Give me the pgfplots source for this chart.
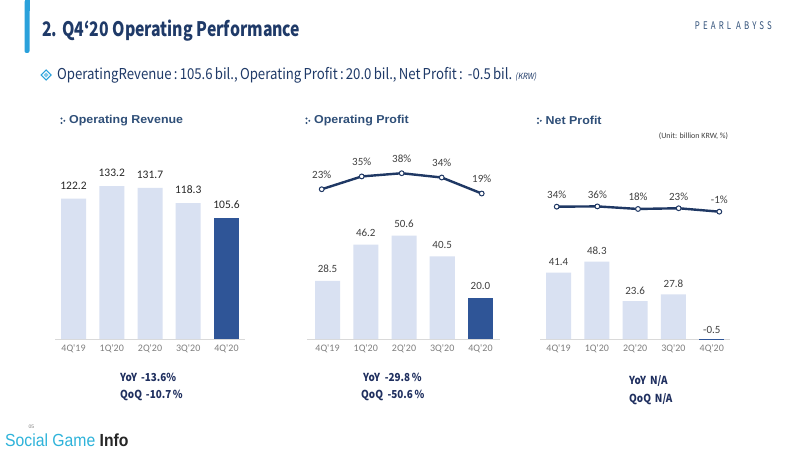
\documentclass[border=0pt]{standalone}
\usepackage{fontspec}
\setmainfont{Carlito}
\newfontfamily\nkr{Noto Sans CJK KR}
\newfontfamily\nkrit[FakeSlant=0.2]{Noto Sans CJK KR}
\newfontfamily\pa[LetterSpace=40]{Noto Sans CJK KR}
\newfontfamily\lsans{Liberation Sans}
\usepackage{pgfplots}
\pgfplotsset{compat=1.18}
\definecolor{lightbar}{HTML}{D9E1F2}
\definecolor{darkbar}{HTML}{2F5597}
\definecolor{navy}{HTML}{1F3864}
\definecolor{titlec}{HTML}{1F3A68}
\definecolor{hdrc}{HTML}{2F4F78}
\definecolor{axisgray}{HTML}{D9D9D9}
\definecolor{tickgray}{HTML}{7F7F7F}
\definecolor{lblgray}{HTML}{404040}
\definecolor{cyanbar}{HTML}{2AA1DB}
\definecolor{sgcyan}{HTML}{2EB3DA}
\definecolor{yoyc}{HTML}{1F2F5F}

\pgfplotsset{
  barbase/.style={
    scale only axis, ybar, bar shift=0pt, bar width=25pt, ymin=0,
    axis y line=none, axis x line=bottom,
    x axis line style={-, draw=axisgray, line width=1pt},
    xtick={0,1,2,3,4},
    xticklabels={4Q\textquotesingle19,1Q\textquotesingle20,2Q\textquotesingle20,3Q\textquotesingle20,4Q\textquotesingle20},
    major tick length=0pt, xtick style={draw=none},
    xticklabel style={font=\fontsize{10}{11}\selectfont, text=tickgray, anchor=base, inner sep=0pt, yshift=-12.5pt},
    clip=false,
    /pgf/number format/assume math mode=true,
    nodes near coords={\pgfmathprintnumber[fixed,fixed zerofill,precision=1]{\pgfplotspointmeta}},
  },
  linebase/.style={
    scale only axis, hide axis, clip=false,
    /pgf/number format/assume math mode=true,
  },
  pline/.style={color=navy, line width=2.4pt, mark=*, mark size=2.4pt,
    mark options={fill=white, draw=navy, line width=1pt},
    nodes near coords={\pgfmathprintnumber[fixed,precision=0]{\pgfplotspointmeta}\%},
  },
}

\begin{document}
\begin{tikzpicture}
\begin{scope}[x=1pt,y=1pt]
\fill[white] (0,0) rectangle (800,451);
% left accent bar
\fill[cyanbar, rounded corners=2pt] (24.5,398) rectangle (29.5,451);
\fill[cyanbar] (24.5,440) rectangle (29.5,451);
% title
\node[anchor=west, inner sep=0pt, text=titlec, xscale=0.79] at (42,420) {\fontsize{20}{22}\nkr\bfseries\selectfont 2. Q4‘20 Operating Performance};
\node[anchor=east, inner sep=0pt, text=hdrc, xscale=0.75] at (772,425.3) {\fontsize{10.5}{12}\pa\selectfont PEARL ABYSS};
% subtitle
\draw[cyanbar, line width=1.1pt] (46.2,381) -- (51.2,376) -- (46.2,371) -- (41.2,376) -- cycle;
\fill[cyanbar!60] (46.2,378.5) -- (48.7,376) -- (46.2,373.5) -- (43.7,376) -- cycle;
\node[anchor=west, inner sep=0pt, text=titlec, xscale=0.88] at (57,376) {\fontsize{15}{17}\nkr\selectfont OperatingRevenue\,:\,105.6\,bil.,\,Operating\,Profit\,:\,20.0\,bil.,\,Net\,Profit\,:\ \,-0.5\,bil.\ {\fontsize{8.5}{10}\nkrit\selectfont (KRW)}};
% panel headers
\foreach \ix/\txt in {61/Operating Revenue, 306/Operating Profit, 537.5/Net Profit}{
  \fill[hdrc] (\ix+0.5,332.5) circle (1.1);
  \fill[hdrc] (\ix+0.5,328) circle (1.1);
  \fill[hdrc] (\ix+3.3,330.2) circle (1.1);
  \node[anchor=west, inner sep=0pt, text=hdrc, xscale=1.08] at (\ix+8,330.2) {\fontsize{11.5}{13}\lsans\bfseries\selectfont \txt};
}
\node[inner sep=0pt, text=lblgray] at (693.5,315.3) {\fontsize{8}{9}\selectfont (Unit: billion KRW, \%)};
% YoY / QoQ
\node[anchor=west, inner sep=0pt, text=yoyc, xscale=0.9] at (120,73.3) {\fontsize{11}{13}\nkr\bfseries\selectfont YoY\ \,-13.6\%};
\node[anchor=west, inner sep=0pt, text=yoyc, xscale=0.9] at (120,56) {\fontsize{11}{13}\nkr\bfseries\selectfont QoQ\ \,-10.7\,\%};
\node[anchor=west, inner sep=0pt, text=yoyc, xscale=0.9] at (363,74) {\fontsize{11}{13}\nkr\bfseries\selectfont YoY\ \ -29.8\,\%};
\node[anchor=west, inner sep=0pt, text=yoyc, xscale=0.9] at (361,56) {\fontsize{11}{13}\nkr\bfseries\selectfont QoQ\ \ -50.6\,\%};
\node[anchor=west, inner sep=0pt, text=yoyc, xscale=0.9] at (629,70.3) {\fontsize{11}{13}\nkr\bfseries\selectfont YoY\ \,N/A};
\node[anchor=west, inner sep=0pt, text=yoyc, xscale=0.9] at (629,52) {\fontsize{11}{13}\nkr\bfseries\selectfont QoQ\ \,N/A};
% footer logo
\node[anchor=west, inner sep=0pt, xscale=0.9] at (5,11) {\fontsize{17.5}{19}\lsans\selectfont\textcolor{sgcyan}{Social Game} \textcolor{black!85}{\bfseries Info}};
\node[inner sep=0pt, text=black!50] at (31.5,24) {\fontsize{5}{6}\lsans\selectfont 05};
\end{scope}

% ---------- Panel 1: Operating Revenue ----------
\begin{axis}[barbase, at={(55pt,112pt)}, anchor=south west, width=190pt, height=189pt,
  xmin=-0.484, xmax=4.484, ymax=164.6,
  every node near coord/.append style={font=\fontsize{11.5}{12}\selectfont, text=black!85, anchor=south, inner sep=0pt, yshift=9pt}]
\addplot[fill=lightbar, draw=none] coordinates {(0,122.2) (1,133.2) (2,131.7) (3,118.3)};
\addplot[fill=darkbar, draw=none] coordinates {(4,105.6)};
\end{axis}

% ---------- Panel 2: Operating Profit ----------
\begin{axis}[barbase, at={(307pt,112pt)}, anchor=south west, width=193pt, height=189pt,
  xmin=-0.536, xmax=4.51, ymax=92.6,
  every node near coord/.append style={font=\fontsize{11}{12}\selectfont, text=lblgray, anchor=south, inner sep=0pt, yshift=8pt}]
\addplot[fill=lightbar, draw=none] coordinates {(0,28.5) (1,46.2) (2,50.6) (3,40.5)};
\addplot[fill=darkbar, draw=none] coordinates {(4,20.0)};
\end{axis}
\begin{axis}[linebase, at={(307pt,237.2pt)}, anchor=south west, width=193pt, height=60pt,
  xmin=-0.3675, xmax=4.4575, ymin=0, ymax=56.2,
  every node near coord/.append style={font=\fontsize{11}{12}\selectfont, text=lblgray, anchor=south, inner sep=0pt, yshift=10pt}]
\addplot[pline] coordinates {(0,23) (1,35) (2,38) (3,34) (4,19)};
\end{axis}

% ---------- Panel 3: Net Profit ----------
\begin{axis}[barbase, at={(540pt,112pt)}, anchor=south west, width=190pt, height=189pt,
  xmin=-0.483, xmax=4.475, ymin=0, ymax=118,
  every node near coord/.append style={font=\fontsize{11}{12}\selectfont, text=lblgray, anchor=south, inner sep=0pt, yshift=6.5pt}]
\addplot[fill=lightbar, draw=none] coordinates {(0,41.4) (1,48.3) (2,23.6) (3,27.8)};
\addplot[fill=darkbar, draw=none] coordinates {(4,-0.5)};
\end{axis}
\begin{axis}[linebase, at={(540pt,236.6pt)}, anchor=south west, width=190pt, height=40pt,
  xmin=-0.411, xmax=4.263, ymin=-20, ymax=259.7,
  every node near coord/.append style={font=\fontsize{11}{12}\selectfont, text=lblgray, anchor=south, inner sep=0pt, yshift=7.5pt}]
\addplot[pline] coordinates {(0,34) (1,36) (2,18) (3,23) (4,-1)};
\end{axis}
\end{tikzpicture}
\end{document}
